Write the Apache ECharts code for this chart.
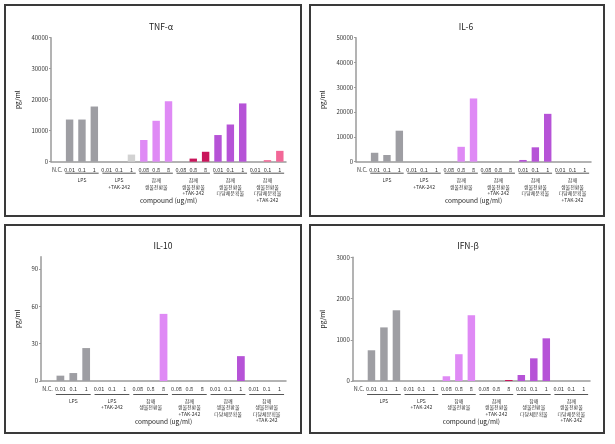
<!DOCTYPE html>
<html><head><meta charset="utf-8">
<script src="https://cdn.jsdelivr.net/npm/echarts@6/dist/echarts.min.js"></script>
<style>
html,body{margin:0;padding:0;background:#fff;width:615px;height:444px;overflow:hidden;}
.panel{position:absolute;box-sizing:border-box;border:2px solid #3a3a3a;background:#fff;}
</style></head><body>
<div id="p0" class="panel"></div>
<div id="p1" class="panel"></div>
<div id="p2" class="panel"></div>
<div id="p3" class="panel"></div>
<script>
// ---- data ----
const doseLabels = ['N.C.','0.01','0.1','1','0.01','0.1','1','0.08','0.8','8','0.08','0.8','8','0.01','0.1','1','0.01','0.1','1'];
const groupLabels = ['LPS','LPS\n+TAK-242','참깨\n생물전환물','참깨\n생물전환물\n+TAK-242','참깨\n생물전환물\n다당체분획물','참깨\n생물전환물\n다당체분획물\n+TAK-242'];
const groupStart = [1,4,7,10,13,16];
const groupEnd   = [3,6,9,12,15,18];
const tnfAlpha = [0,13600,13600,17800,0,0,2300,7000,13200,19500,0,1000,3200,8600,12000,18800,0,500,3500];
const il6      = [0,3600,2700,12500,0,0,0,0,6000,25500,0,0,0,700,5800,19300,0,0,0];
const il10     = [0,4.3,6.4,26.5,0,0,0,0,0,54,0,0,0,0,0,20,0,0,0];
const ifnBeta  = [0,745,1300,1715,0,0,0,115,650,1595,0,0,25,145,550,1035,0,0,0];
const titles = ['TNF-α','IL-6','IL-10','IFN-β'];
const yMax = [40000,50000,100,3000];
const yInterval = [10000,10000,30,1000];
// ---- style ----
const groupColors = ['#9e9ea3','#d2d2d2','#df8af5','#c9155b','#b653d7','#f26797'];
const FONT = '"Noto Sans CJK KR", "Noto Sans", sans-serif';
const panels = [
  {box:[4,4,298,213], grid:{left:35.7,right:14,top:31.7,bottom:53.3}, tx:150, ty:12, yGap:23, xGap:36, ul:11.5, gl:15.5},
  {box:[309,4,296,213], grid:{left:35.7,right:12,top:31.7,bottom:53.3}, tx:150, ty:12, yGap:23, xGap:36, ul:11.5, gl:15.5},
  {box:[4,224,298,210], grid:{left:30.7,right:14,top:30.7,bottom:51}, tx:152, ty:10.5, yGap:19, xGap:37.5, ul:13.5, gl:16.5},
  {box:[309,224,296,210], grid:{left:33.3,right:13,top:31.3,bottom:51}, tx:152, ty:10.5, yGap:24, xGap:37.5, ul:13.5, gl:16.5}
];
const seriesData = [tnfAlpha, il6, il10, ifnBeta];

function groupOf(i){ for(let g=0;g<groupStart.length;g++){ if(i>=groupStart[g]&&i<=groupEnd[g]) return g;} return 0; }

panels.forEach((p, k) => {
  const el = document.getElementById('p'+k);
  el.style.left = p.box[0]+'px'; el.style.top = p.box[1]+'px';
  el.style.width = p.box[2]+'px'; el.style.height = p.box[3]+'px';
  const chart = echarts.init(el, null, {renderer:'canvas'});
  const cats = doseLabels.map((_, i) => String(i));
  const bars = seriesData[k].map((v, i) => ({value: v, itemStyle: {color: groupColors[groupOf(i)]}}));
  const groups = groupLabels.map((_, g) => [groupStart[g], 0, groupEnd[g], g]);
  chart.setOption({
    animation: false,
    textStyle: {fontFamily: FONT},
    title: {text: titles[k], left: p.tx, top: p.ty, textAlign: 'center',
      textStyle: {fontSize: 8.5, fontWeight: 'normal', color: '#222', fontFamily: FONT}},
    grid: p.grid,
    xAxis: {
      type: 'category', data: cats,
      axisLine: {lineStyle: {color: '#9a9a9a', width: 1.5}},
      axisTick: {show: false},
      axisLabel: {interval: 0, fontSize: 5.5, color: '#333', margin: 5, fontFamily: FONT,
        formatter: (v) => doseLabels[+v]},
      name: 'compound (ug/ml)', nameLocation: 'middle', nameGap: p.xGap,
      nameTextStyle: {fontSize: 6.5, color: '#222', fontFamily: FONT}
    },
    yAxis: {
      type: 'value', min: 0, max: yMax[k], interval: yInterval[k],
      axisLine: {show: true, lineStyle: {color: '#9a9a9a', width: 1.5}},
      axisTick: {show: true, length: 2, lineStyle: {color: '#9a9a9a', width: 1}},
      splitLine: {show: false},
      axisLabel: {fontSize: 6, color: '#333', margin: 3, showMaxLabel: yMax[k] % yInterval[k] === 0, fontFamily: FONT,
        formatter: (v) => String(v)},
      name: 'pg/ml', nameLocation: 'middle', nameGap: p.yGap,
      nameTextStyle: {fontSize: 6.5, color: '#222', fontFamily: FONT}
    },
    series: [
      {type: 'bar', data: bars, barWidth: '60%'},
      {type: 'custom', data: groups, clip: false, silent: true, z: 5,
        renderItem: (params, api) => {
          const s = api.coord([api.value(0), 0]);
          const e = api.coord([api.value(2), 0]);
          const band = api.size([1, 0])[0];
          const g = api.value(3);
          const y0 = s[1];
          return {type: 'group', children: [
            {type: 'line', shape: {x1: s[0] - band*0.35, y1: y0 + p.ul, x2: e[0] + band*0.35, y2: y0 + p.ul},
              style: {stroke: '#555', lineWidth: 1}},
            {type: 'text', x: (s[0]+e[0])/2, y: y0 + p.gl,
              style: {text: groupLabels[g], align: 'center', verticalAlign: 'top', fontSize: 5, lineHeight: 6.5,
                fill: '#333', fontFamily: FONT}}
          ]};
        }}
    ]
  });
});
</script>
</body></html>
